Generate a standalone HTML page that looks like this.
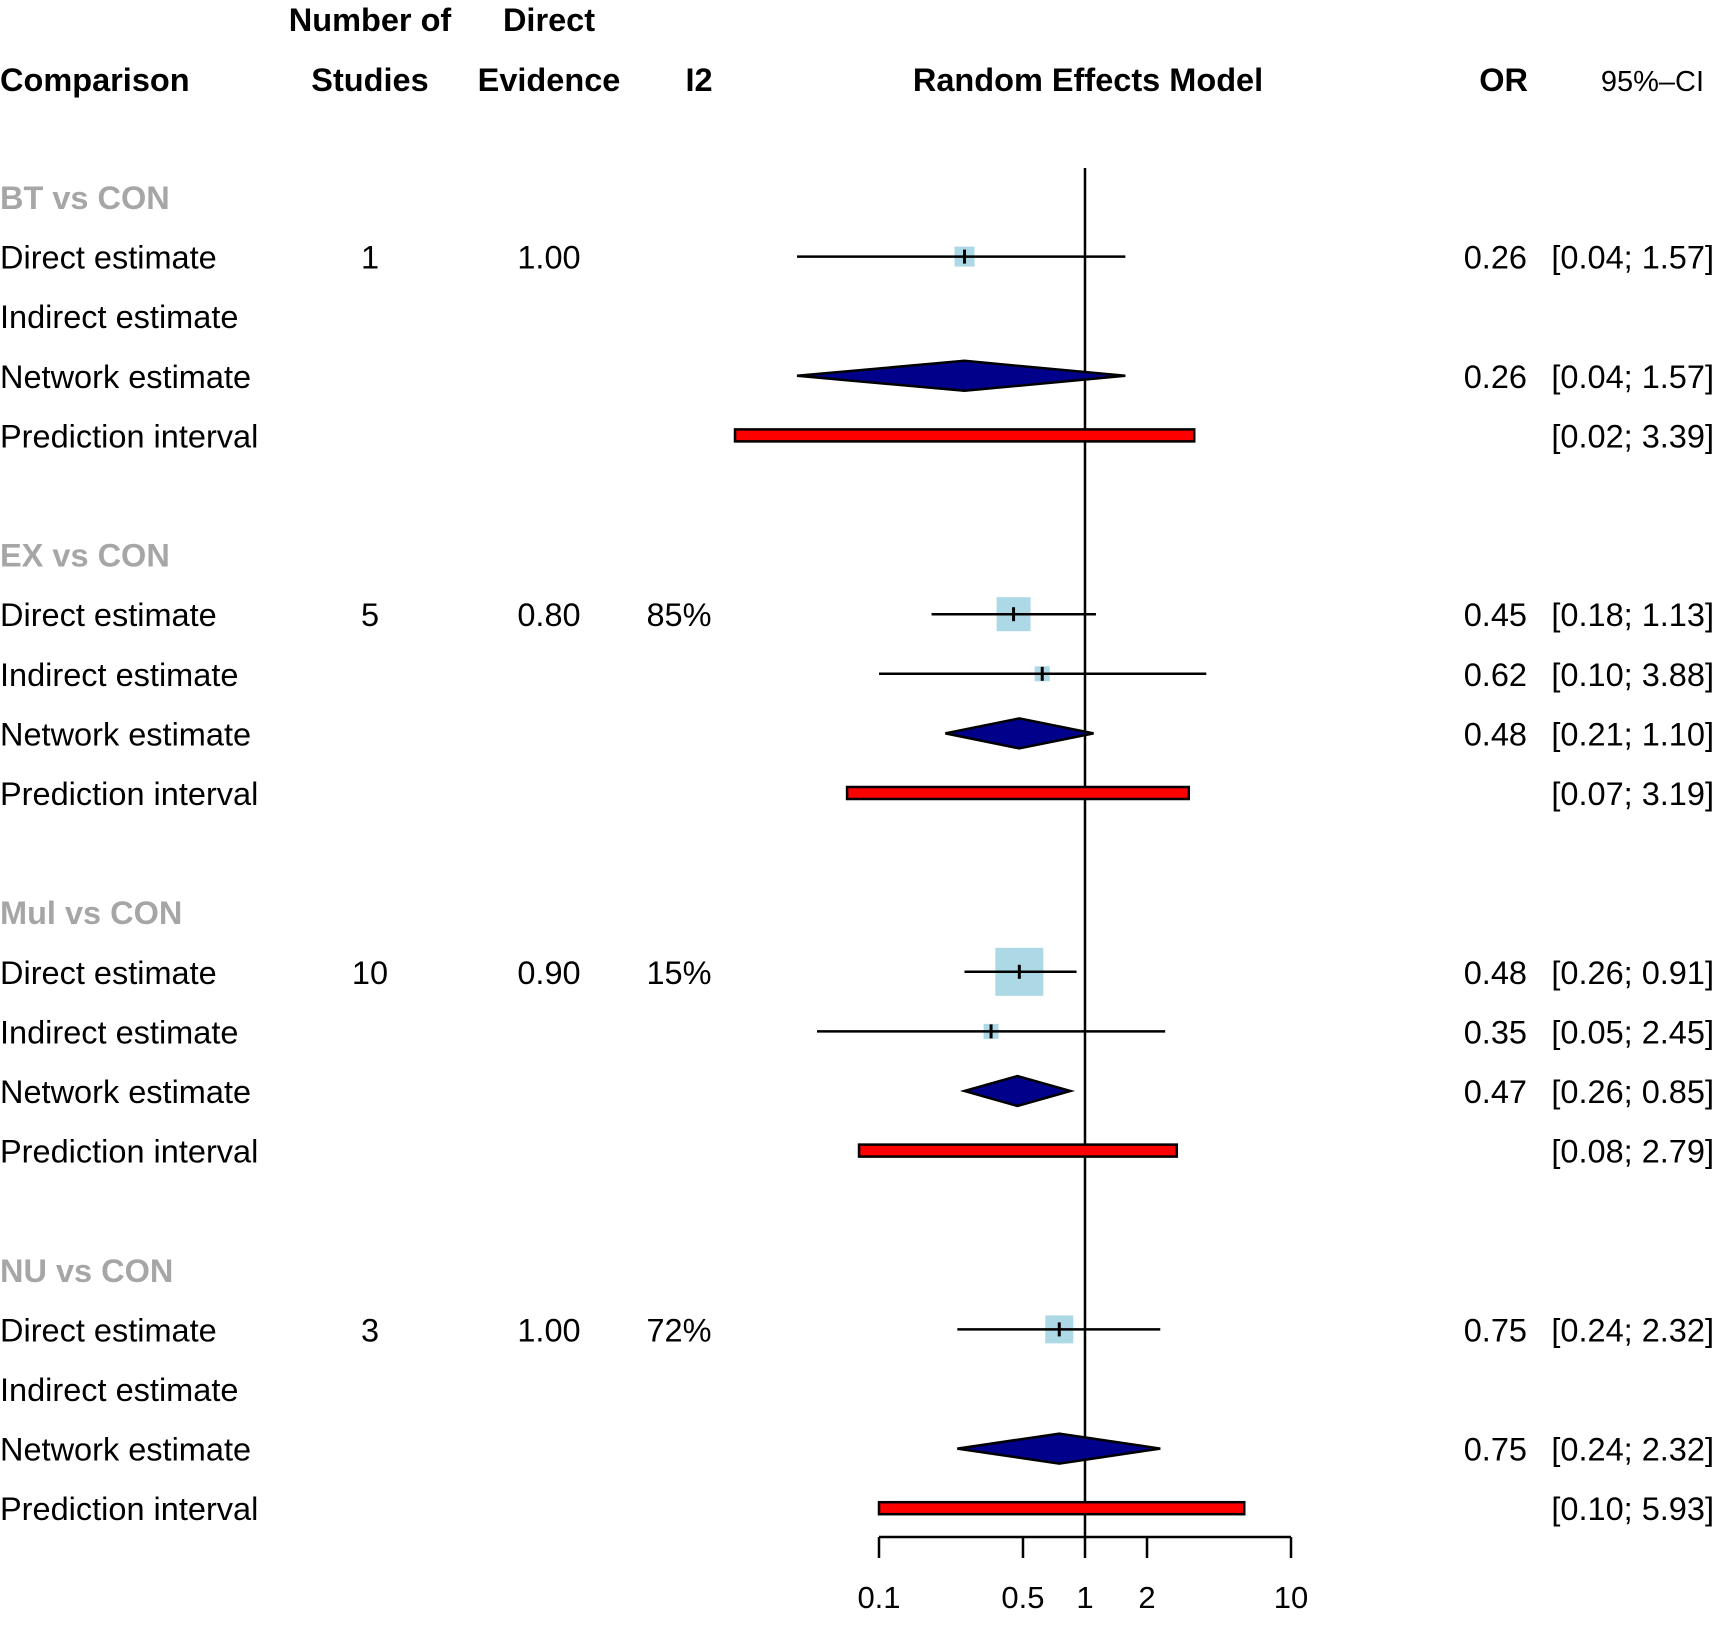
<!DOCTYPE html>
<html><head><meta charset="utf-8"><style>
html,body{margin:0;padding:0;background:#fff}
svg{display:block}
text{font-family:"Liberation Sans",Arial,sans-serif}
</style></head><body>
<svg id="chart" width="1717" height="1625" viewBox="0 0 1717 1625" xmlns="http://www.w3.org/2000/svg">
<g id="hdr" font-weight="bold" font-size="32.5" fill="#000">
<text x="0" y="91">Comparison</text>
<text x="370" y="31" text-anchor="middle">Number of</text>
<text x="370" y="91" text-anchor="middle">Studies</text>
<text x="549" y="31" text-anchor="middle">Direct</text>
<text x="549" y="91" text-anchor="middle">Evidence</text>
<text x="699" y="91" text-anchor="middle">I2</text>
<text x="1088" y="91" text-anchor="middle">Random Effects Model</text>
<text x="1528" y="91" text-anchor="end">OR</text>
<text x="1704" y="91" text-anchor="end" font-weight="normal" font-size="29">95%–CI</text>
</g>
<g id="rows"></g>
<g id="marks"></g>
<g id="axis"></g>
</svg>
<script>
const groups = ["BT vs CON","EX vs CON","Mul vs CON","NU vs CON"];
const nStudies = ["1","5","10","3"];
const directEv = ["1.00","0.80","0.90","1.00"];
const i2 = ["","85%","15%","72%"];
// per group: direct, indirect, network (null = absent)
const est = [[0.26,null,0.26],[0.45,0.62,0.48],[0.48,0.35,0.47],[0.75,null,0.75]];
const lo  = [[0.04,null,0.04],[0.18,0.10,0.21],[0.26,0.05,0.26],[0.24,null,0.24]];
const hi  = [[1.57,null,1.57],[1.13,3.88,1.10],[0.91,2.45,0.85],[2.32,null,2.32]];
const estLabel = [["0.26","","0.26"],["0.45","0.62","0.48"],["0.48","0.35","0.47"],["0.75","","0.75"]];
const ciLabel = [["[0.04; 1.57]","","[0.04; 1.57]"],["[0.18; 1.13]","[0.10; 3.88]","[0.21; 1.10]"],["[0.26; 0.91]","[0.05; 2.45]","[0.26; 0.85]"],["[0.24; 2.32]","","[0.24; 2.32]"]];
const weight = [[20,0,0],[34,15,0],[48,15,0],[28,0,0]];
const piLo = [0.02,0.07,0.08,0.10];
const piHi = [3.39,3.19,2.79,5.93];
const piLabel = ["[0.02; 3.39]","[0.07; 3.19]","[0.08; 2.79]","[0.10; 5.93]"];
const ticks = [0.1,0.5,1,2,10];
const tickLabels = ["0.1","0.5","1","2","10"];
const rowNames = ["Direct estimate","Indirect estimate","Network estimate","Prediction interval"];

const NS="http://www.w3.org/2000/svg";
const X = v => 1085 + 206*Math.log10(v);
const Y = i => 197 + 59.6*i;
const FS = 32.5, OFF = 12;
function mk(tag, attrs, parent, txt){const e=document.createElementNS(NS,tag);for(const k in attrs)e.setAttribute(k,attrs[k]);if(txt!==undefined)e.textContent=txt;parent.appendChild(e);return e;}
const rows=document.getElementById('rows'), marks=document.getElementById('marks'), axis=document.getElementById('axis');

let rl=mk('line',{x1:X(1),x2:X(1),y1:168,y2:1537,stroke:'#000','stroke-width':2.5},marks);



groups.forEach((g,gi)=>{
  const base=gi*6;
  let t=mk('text',{x:0,y:Y(base)+OFF,'font-size':FS,'font-weight':'bold',fill:'#a6a6a6'},rows,g);
  
  
  for(let r=0;r<4;r++){
    const y=Y(base+1+r);
    let l=mk('text',{x:0,y:y+OFF,'font-size':FS},rows,rowNames[r]);
    
    
  }
  let y1=Y(base+1)+OFF;
  let n=mk('text',{x:370,y:y1,'font-size':FS,'text-anchor':'middle'},rows,nStudies[gi]);
  
  
  let d=mk('text',{x:549,y:y1,'font-size':FS,'text-anchor':'middle'},rows,directEv[gi]);
  
  
  let q=mk('text',{x:679,y:y1,'font-size':FS,'text-anchor':'middle'},rows,i2[gi]);
  
  
  for(let r=0;r<3;r++){
    if(est[gi][r]===null) continue;
    const y=Y(base+1+r);
    let o=mk('text',{x:1527,y:y+OFF,'font-size':FS,'text-anchor':'end'},rows,estLabel[gi][r]);
    
    
    let c=mk('text',{x:1714,y:y+OFF,'font-size':FS,'text-anchor':'end'},rows,ciLabel[gi][r]);
    
    
    if(r<2){
      const s=weight[gi][r], cx=X(est[gi][r]);
      let sq=mk('rect',{x:cx-s/2,y:y-s/2,width:s,height:s,fill:'#add8e6'},marks);
      
      
      let ln=mk('line',{x1:X(lo[gi][r]),x2:X(hi[gi][r]),y1:y,y2:y,stroke:'#000','stroke-width':2.5},marks);
      
      
      let tk=mk('line',{x1:cx,x2:cx,y1:y-7,y2:y+7,stroke:'#000','stroke-width':3},marks);
      
      
    } else {
      const cx=X(est[gi][r]), a=X(lo[gi][r]), b=X(hi[gi][r]);
      let dm=mk('polygon',{points:`${a},${y} ${cx},${y-15} ${b},${y} ${cx},${y+15}`,fill:'#00008b',stroke:'#000','stroke-width':2.5},marks);
      
      
    }
  }
  const yp=Y(base+4);
  let pb=mk('rect',{x:X(piLo[gi]),y:yp-6,width:X(piHi[gi])-X(piLo[gi]),height:12,fill:'#ff0000',stroke:'#000','stroke-width':2.5},marks);
  
  
  let pl=mk('text',{x:1714,y:yp+OFF,'font-size':FS,'text-anchor':'end'},rows,piLabel[gi]);
  
  
});

let ax=mk('line',{x1:X(ticks[0]),x2:X(ticks[ticks.length-1]),y1:1537,y2:1537,stroke:'#000','stroke-width':2.5},axis);


ticks.forEach((v,i)=>{
  let tl=mk('line',{x1:X(v),x2:X(v),y1:1537,y2:1558,stroke:'#000','stroke-width':2.5},axis);
  
  
  let tt=mk('text',{x:X(v),y:1608,'font-size':31,'text-anchor':'middle'},axis,tickLabels[i]);
  
  
});
</script>
</body></html>
